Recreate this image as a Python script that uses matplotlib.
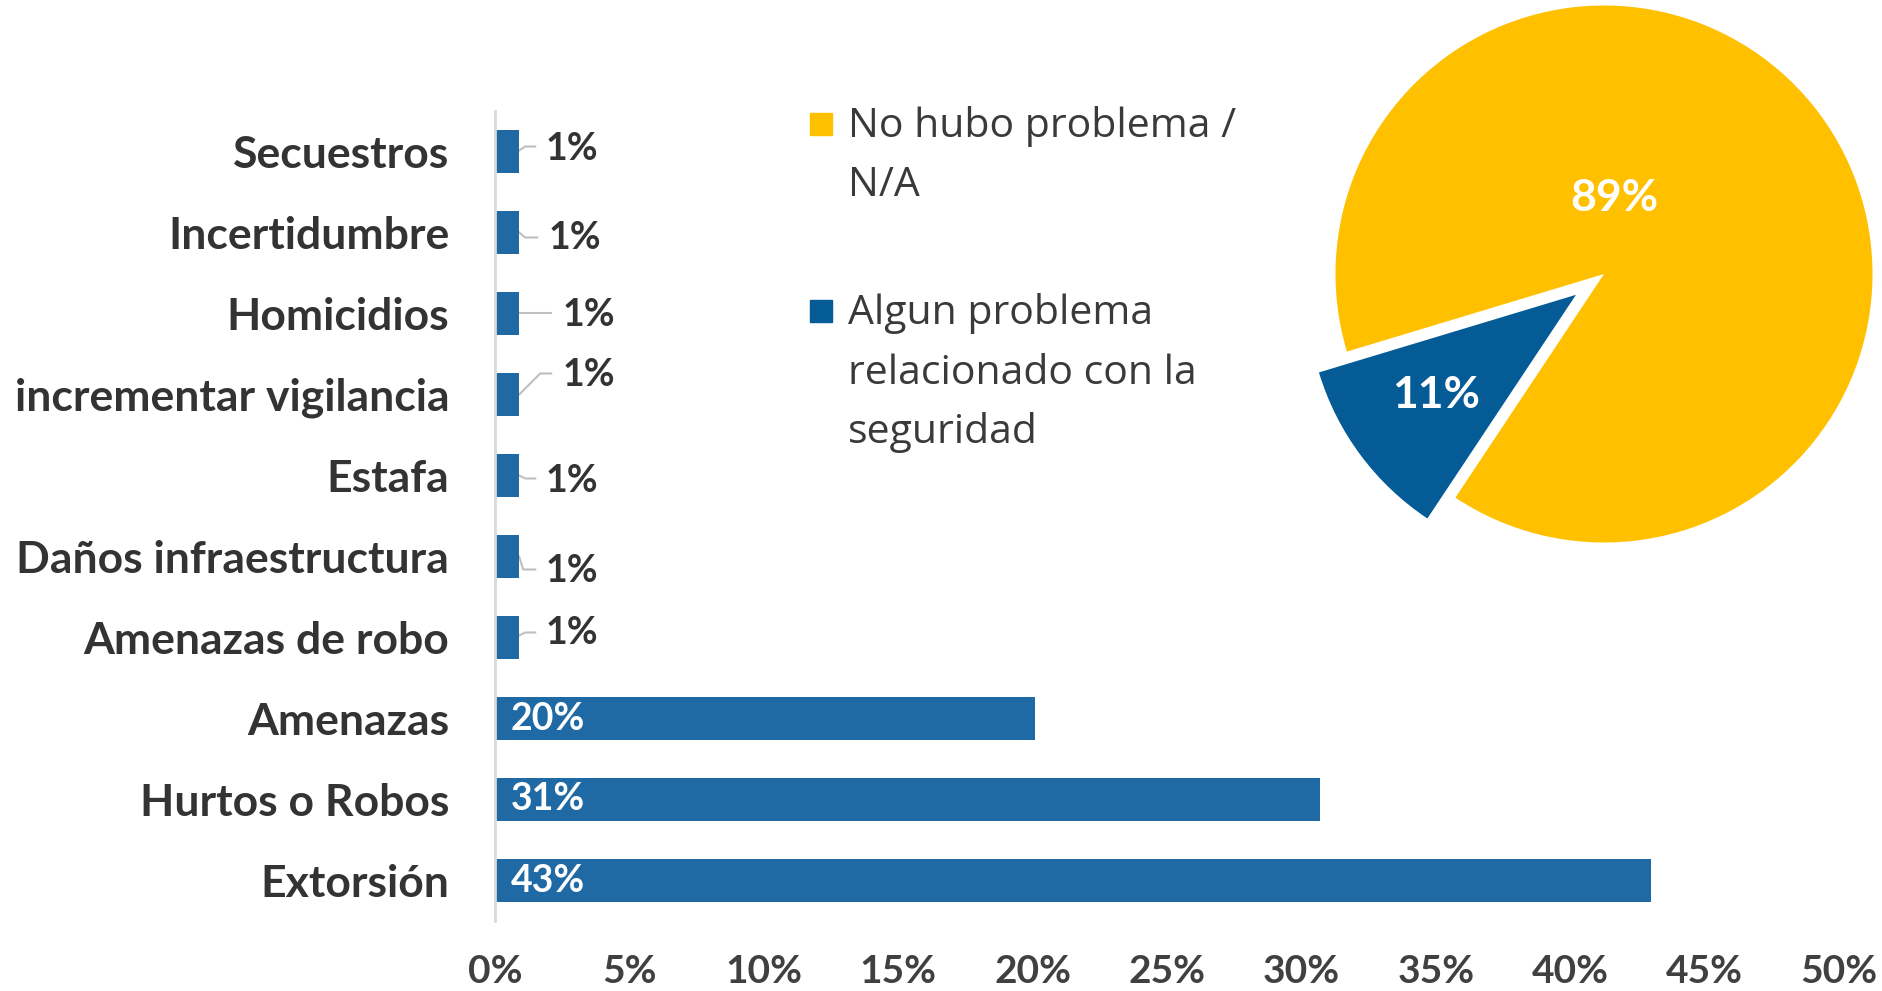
import matplotlib
matplotlib.use("Agg")
import matplotlib.pyplot as plt
from matplotlib.patches import Rectangle

# ---------------- data ----------------
categories = ["Secuestros", "Incertidumbre", "Homicidios", "incrementar vigilancia",
              "Estafa", "Daños infraestructura", "Amenazas de robo", "Amenazas",
              "Hurtos o Robos", "Extorsión"]
values = [0.9, 0.9, 0.9, 0.9, 0.9, 0.9, 0.9, 20.1, 30.7, 43.0]
xticks = [0, 5, 10, 15, 20, 25, 30, 35, 40, 45, 50]

pie_labels = ["No hubo problema /\nN/A", "Algun problema\nrelacionado con la\nseguridad"]
pie_values = [89, 11]

# ---------------- style ----------------
W, H = 1883, 991
BAR_BLUE = "#1F6AA5"
PIE_COLORS = ["#FFC000", "#045B96"]
TXT = "#333333"
BOLD_FONT = "Lato"
LEG_FONT = "Open Sans"

# leader geometry for small-bar labels (pixels, y down):
# start_dy, elbow_dx, elbow_dy, end_dx, label_dx, label_dy
leaders = {
    0: (-1, 6, -5, 16, 26, -2),
    1: (0, 6, 5, 18, 29, 6),
    2: (0, 0, 0, 32, 43, 2),
    3: (0, 21, -21, 32, 43, -20),
    4: (0, 6, 3, 16, 26, 5),
    5: (0, 4, 13, 16, 26, 14),
    6: (-2, 6, -5, 16, 26, -4),
}

fig = plt.figure(figsize=(W / 100, H / 100), dpi=100)

# ---------------- bar chart ----------------
ax_l, ax_r, ax_t, ax_b = 495, 1839, 111, 921
ax = fig.add_axes([ax_l / W, (H - ax_b) / H, (ax_r - ax_l) / W, (ax_b - ax_t) / H])
ypos = list(range(len(categories)))
ax.barh(ypos, values, height=0.52, color=BAR_BLUE, zorder=3)
ax.set_xlim(0, 50)
ax.set_ylim(len(categories) - 0.5, -0.5)
ax.set_yticks(ypos)
ax.set_yticklabels(categories, fontsize=32, fontweight="bold", family=BOLD_FONT, color=TXT)
ax.set_xticks(xticks)
ax.set_xticklabels([f"{t}%" for t in xticks], fontsize=28, fontweight="bold",
                   family=BOLD_FONT, color="#404040")
ax.tick_params(axis="both", length=0)
ax.tick_params(axis="x", pad=24)
ax.tick_params(axis="y", pad=33)
for s in ["top", "right", "bottom"]:
    ax.spines[s].set_visible(False)
ax.spines["left"].set_color("#D9D9D9")
ax.spines["left"].set_linewidth(2)
ax.spines["left"].set_zorder(4)

inv = ax.transData.inverted()


def px_to_data(x0, y0, dx, dy):
    X, Y = ax.transData.transform((x0, y0))
    return inv.transform((X + dx, Y - dy))


for i, v in enumerate(values):
    lab = f"{round(v):.0f}%"
    if v >= 5:
        ax.annotate(lab, xy=(0, i), xytext=(16, 0), textcoords="offset pixels",
                    ha="left", va="center", color="white", fontsize=27,
                    fontweight="bold", family=BOLD_FONT, zorder=5)
    else:
        sdy, edx, edy, ndx, ldx, ldy = leaders[i]
        pts = [px_to_data(v, i, 0, sdy), px_to_data(v, i, edx, edy), px_to_data(v, i, ndx, edy)]
        ax.plot([p[0] for p in pts], [p[1] for p in pts], color="#BFBFBF", lw=1.5,
                zorder=2, clip_on=False)
        ax.annotate(lab, xy=(v, i), xytext=(ldx, -ldy), textcoords="offset pixels",
                    ha="left", va="center", color=TXT, fontsize=27,
                    fontweight="bold", family=BOLD_FONT, zorder=5)

# ---------------- pie chart ----------------
cx, cy, r = 1604, 274, 268.5
pw = ph = 2.5 * r
ax2 = fig.add_axes([(cx - pw / 2) / W, (H - (cy + ph / 2)) / H, pw / W, ph / H])
ax2.pie(pie_values, colors=PIE_COLORS, startangle=196.8, counterclock=False,
        explode=[0, 0.13], radius=1)
ax2.set_xlim(-1.25, 1.25)
ax2.set_ylim(-1.25, 1.25)
ax2.set_aspect("auto")
ax2.axis("off")
pie_text_pos = [(0.037, 0.283), (-0.625, -0.45)]
for (tx, ty), v in zip(pie_text_pos, pie_values):
    ax2.text(tx, ty, f"{v}%", ha="center", va="center", color="white",
             fontsize=32, fontweight="bold", family=BOLD_FONT)

# ---------------- legend ----------------
leg_sq_top = [113, 300]
leg_base = [137, 324]
for k, (lab, col) in enumerate(zip(pie_labels, PIE_COLORS)):
    fig.patches.append(Rectangle((810 / W, (H - leg_sq_top[k] - 22) / H), 22 / W, 22 / H,
                                 transform=fig.transFigure, color=col))
    for j, line in enumerate(lab.split("\n")):
        fig.text(848 / W, (H - (leg_base[k] + 59.5 * j)) / H, line, ha="left", va="baseline",
                 fontsize=29.5, family=LEG_FONT, color="#3A3A3A")

fig.savefig("out.png", dpi=100)
